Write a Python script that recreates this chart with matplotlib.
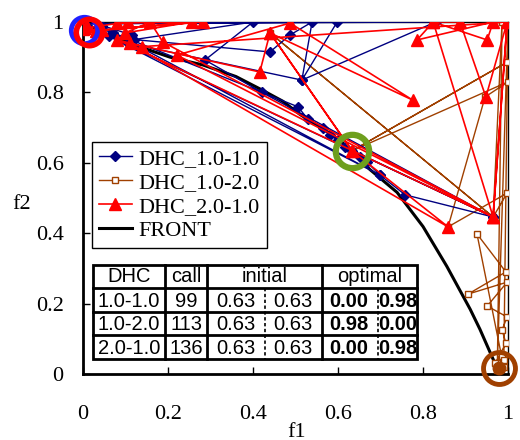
import matplotlib
matplotlib.use("Agg")
import matplotlib.pyplot as plt

# ---- data ----
front_f1 = [0.0, 0.047, 0.12, 0.205, 0.282, 0.36, 0.421, 0.47, 0.511, 0.56, 0.60,
            0.633, 0.675, 0.739, 0.80, 0.856, 0.911, 0.934, 0.965, 0.98]
front_f2 = [1.0, 0.969, 0.935, 0.90, 0.878, 0.845, 0.807, 0.775, 0.737, 0.70, 0.667,
            0.634, 0.581, 0.516, 0.419, 0.306, 0.184, 0.127, 0.042, 0.0]

dhc11_f1 = [0.633, 0.652, 0.668, 0.699, 0.758, 0.965, 0.616, 0.600, 0.581, 0.565,
            0.529, 0.506, 0.070, 0.699, 0.060, 0.965, 0.421, 0.287, 0.400, 0.120,
            0.440, 0.487, 0.539, 0.515, 0.598, 0.000, 0.830, 0.515, 0.106, 0.115,
            0.045, 0.070, 0.010, 0.000]
dhc11_f2 = [0.634, 0.616, 0.602, 0.565, 0.509, 0.446, 0.645, 0.665, 0.679, 0.699,
            0.724, 0.759, 0.970, 0.565, 0.960, 0.446, 0.800, 0.892, 1.000, 0.950,
            0.915, 0.963, 1.000, 0.835, 1.000, 0.995, 1.000, 0.835, 0.940, 0.963,
            0.990, 0.970, 0.990, 0.985]

dhc12_f1 = [0.633, 0.998, 0.633, 1.000, 0.946, 0.859, 0.998, 0.965, 0.440, 0.965,
            0.986, 0.975, 1.000, 0.990, 0.927, 0.995, 0.906, 0.998, 0.951, 0.998,
            0.986, 0.995, 0.970, 0.985, 0.975, 0.990, 0.980]
dhc12_f2 = [0.634, 0.886, 0.634, 0.830, 0.787, 0.418, 0.514, 0.446, 0.969, 0.446,
            1.000, 0.030, 1.000, 0.020, 0.398, 0.290, 0.227, 0.261, 0.193, 0.162,
            0.125, 0.088, 0.030, 0.050, 0.010, 0.040, 0.020]

dhc21_f1 = [0.633, 0.859, 0.110, 0.416, 0.440, 0.633, 0.440, 0.776, 0.487, 0.221,
            0.965, 0.824, 0.786, 0.965, 0.951, 0.824, 0.887, 0.948, 0.998, 0.965,
            0.998, 0.139, 0.080, 0.965, 0.188, 0.158, 0.099, 0.256, 0.045, 0.282,
            0.080, 0.106, 0.005, 0.030, 0.010, 0.000]
dhc21_f2 = [0.634, 0.418, 0.940, 0.858, 0.969, 0.634, 0.969, 0.778, 0.997, 0.906,
            0.446, 1.000, 0.949, 1.000, 0.949, 1.000, 1.000, 0.787, 1.000, 0.446,
            1.000, 0.930, 0.950, 0.446, 0.943, 1.000, 0.969, 1.000, 0.977, 1.000,
            0.997, 1.000, 0.983, 0.975, 0.990, 0.980]

# circles: initial point and optima
init_pt = (0.633, 0.634)
opt_11 = (0.002, 0.978)
opt_21 = (0.014, 0.972)
opt_12 = (0.979, 0.017)

# table
tbl_header = ["DHC", "call", "initial", "optimal"]
tbl_dhc = ["1.0-1.0", "1.0-2.0", "2.0-1.0"]
tbl_call = ["99", "113", "136"]
tbl_init = [("0.63", "0.63"), ("0.63", "0.63"), ("0.63", "0.63")]
tbl_opt = [("0.00", "0.98"), ("0.98", "0.00"), ("0.00", "0.98")]

navy = "#000080"
brown = "#a04000"
red = "#ff0000"
green = "#6e9f1e"
serif = ["Liberation Serif", "DejaVu Serif"]
sans = ["Liberation Sans", "DejaVu Sans"]

fig = plt.figure(figsize=(5.2, 4.4), dpi=100)
ax = fig.add_axes([83 / 520, 1 - 374 / 440, 425 / 520, 352 / 440])

l_front, = ax.plot(front_f1, front_f2, color="black", lw=2.2, zorder=2)
l12, = ax.plot(dhc12_f1, dhc12_f2, color=brown, lw=1.0, marker="s", ms=5,
               mfc="white", mec=brown, mew=1.0, zorder=3)
l11, = ax.plot(dhc11_f1, dhc11_f2, color=navy, lw=1.0, marker="D", ms=5,
               mfc=navy, mec=navy, zorder=4)
l21, = ax.plot(dhc21_f1, dhc21_f2, color=red, lw=1.2, marker="^", ms=8,
               mfc=red, mec=red, zorder=5)

# circles around initial point and optima
ax.plot(*opt_11, marker="o", ms=19, mfc="none", mec="#2020ff", mew=3.5,
        clip_on=False, zorder=6)
ax.plot(*opt_21, marker="o", ms=19, mfc="none", mec=red, mew=4,
        clip_on=False, zorder=7)
ax.plot(*init_pt, marker="o", ms=24, mfc="none", mec=green, mew=4.5,
        clip_on=False, zorder=7)
ax.plot(*opt_12, marker="o", ms=9, mfc=brown, mec=brown, clip_on=False, zorder=6)
ax.plot(*opt_12, marker="o", ms=23, mfc="none", mec=brown, mew=3.5,
        clip_on=False, zorder=7)

ax.set_xlim(0, 1)
ax.set_ylim(0, 1)
ax.set_xticks([0, 0.2, 0.4, 0.6, 0.8, 1])
ax.set_yticks([0, 0.2, 0.4, 0.6, 0.8, 1])
ax.set_xticklabels(["0", "0.2", "0.4", "0.6", "0.8", "1"])
ax.set_yticklabels(["0", "0.2", "0.4", "0.6", "0.8", "1"])
ax.tick_params(direction="in", length=5, width=1, labelsize=16)
ax.tick_params(axis="x", pad=22)
ax.tick_params(axis="y", pad=14)
for lab in ax.get_xticklabels() + ax.get_yticklabels():
    lab.set_family(serif)
for s in ["left", "bottom"]:
    ax.spines[s].set_linewidth(2)
for s in ["top", "right"]:
    ax.spines[s].set_linewidth(1)

fig.text(297 / 520, 1 - 432 / 440, "f1", family=serif, fontsize=16,
         ha="center", va="center")
fig.text(22 / 520, 1 - 204 / 440, "f2", family=serif, fontsize=16,
         ha="center", va="center")

leg = ax.legend([l11, l12, l21, l_front],
                ["DHC_1.0-1.0", "DHC_1.0-2.0", "DHC_2.0-1.0", "FRONT"],
                loc="upper left", bbox_to_anchor=(0.021, 0.659), borderaxespad=0,
                prop={"family": serif, "size": 16}, fancybox=False,
                framealpha=1, edgecolor="black", handlelength=1.5,
                handletextpad=0.3, labelspacing=0.15, borderpad=0.3)
leg.get_frame().set_linewidth(1)
leg.set_zorder(10)

# ---- table drawn in a small pixel-coordinate axes ----
tx0, tx1, ty0, ty1 = 93, 417, 265, 359
tab = fig.add_axes([tx0 / 520, 1 - ty1 / 440, (tx1 - tx0) / 520, (ty1 - ty0) / 440])
tab.set_xlim(tx0, tx1)
tab.set_ylim(ty1, ty0)
tab.set_zorder(11)
tab.axis("off")
tab.add_patch(plt.Rectangle((tx0, ty0), tx1 - tx0, ty1 - ty0, fc="white",
                            ec="black", lw=2, clip_on=False))
rows_y = [265, 288, 312, 335, 359]
cols_x = [93, 165, 207, 322, 417]
for yy in rows_y[1:-1]:
    tab.plot([tx0, tx1], [yy, yy], color="black", lw=2, clip_on=False)
for xx in cols_x[1:-1]:
    tab.plot([xx, xx], [ty0, ty1], color="black", lw=2, clip_on=False)
for xx in [265, 378]:
    tab.plot([xx, xx], [rows_y[1], ty1], color="black", lw=1.2,
             ls=(0, (2, 1.5)), clip_on=False)

def cell(x, y, s, bold=False):
    tab.text(x, y, s, family=sans, fontsize=14.5, ha="center", va="center",
             fontweight="bold" if bold else "normal")

hy = (rows_y[0] + rows_y[1]) / 2
for i, h in enumerate(tbl_header):
    cell((cols_x[i] + cols_x[i + 1]) / 2, hy, h)
for r in range(3):
    y = (rows_y[r + 1] + rows_y[r + 2]) / 2 + 1
    cell(129, y, tbl_dhc[r])
    cell(186, y, tbl_call[r])
    cell(236, y, tbl_init[r][0])
    cell(293, y, tbl_init[r][1])
    cell(349, y, tbl_opt[r][0], bold=True)
    cell(398, y, tbl_opt[r][1], bold=True)

fig.savefig("out.png", dpi=100)
